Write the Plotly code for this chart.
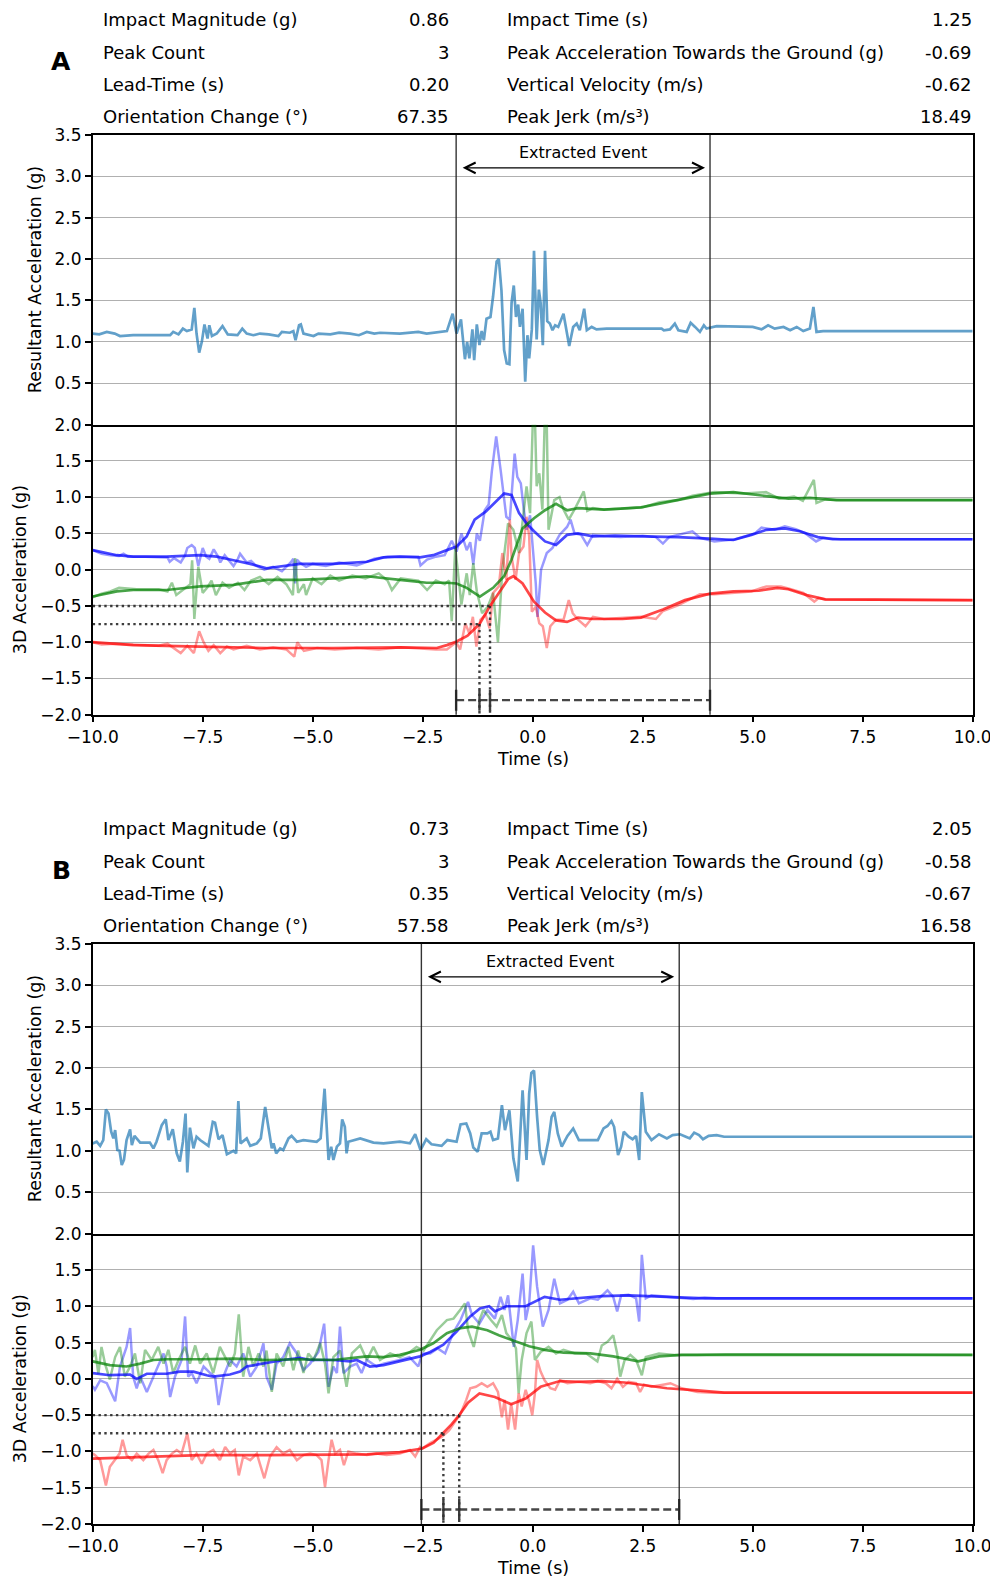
import plotly.graph_objects as go

# ---------------- DATA ----------------
metric_labels_left = ["Impact Magnitude (g)", "Peak Count", "Lead-Time (s)", "Orientation Change (°)"]
metric_labels_right = ["Impact Time (s)", "Peak Acceleration Towards the Ground (g)", "Vertical Velocity (m/s)", "Peak Jerk (m/s³)"]
A_values_left = ["0.86", "3", "0.20", "67.35"]
A_values_right = ["1.25", "-0.69", "-0.62", "18.49"]
B_values_left = ["0.73", "3", "0.35", "57.58"]
B_values_right = ["2.05", "-0.58", "-0.67", "16.58"]

event_A = (-1.74, 4.03)
event_B = (-2.53, 3.33)
thresholds = (-0.75, -0.5)
cross_A = (-1.21, -0.97)
cross_B = (-2.03, -1.67)

A_res = [(-10.0,1.10),(-9.85,1.09),(-9.68,1.12),(-9.5,1.10),(-9.38,1.07),(-9.08,1.08),(-8.24,1.08),(-8.17,1.12),(-8.05,1.09),(-7.95,1.16),(-7.86,1.13),(-7.75,1.15),(-7.69,1.41),(-7.64,1.10),(-7.58,0.87),(-7.52,1.00),(-7.46,1.21),(-7.39,1.04),(-7.35,1.20),(-7.29,1.07),(-7.18,1.10),(-7.05,1.19),(-6.93,1.09),(-6.71,1.08),(-6.60,1.16),(-6.50,1.10),(-6.35,1.08),(-6.20,1.10),(-6.0,1.09),(-5.78,1.07),(-5.70,1.12),(-5.52,1.11),(-5.44,1.13),(-5.39,1.02),(-5.31,1.20),(-5.27,1.21),(-5.21,1.10),(-5.10,1.09),(-4.98,1.07),(-4.87,1.10),(-4.6,1.09),(-4.4,1.11),(-4.15,1.10),(-3.95,1.08),(-3.77,1.12),(-3.6,1.10),(-3.47,1.11),(-3.02,1.10),(-2.6,1.12),(-2.41,1.10),(-2.11,1.12),(-1.95,1.13),(-1.82,1.34),(-1.73,1.10),(-1.63,1.27),(-1.54,0.79),(-1.49,1.00),(-1.44,0.80),(-1.37,1.15),(-1.33,0.78),(-1.27,1.21),(-1.21,0.96),(-1.16,1.13),(-1.11,1.02),(-1.05,1.28),(-0.96,1.30),(-0.90,1.55),(-0.82,1.97),(-0.77,2.00),(-0.71,1.62),(-0.65,0.90),(-0.59,0.74),(-0.53,0.73),(-0.48,1.47),(-0.43,1.68),(-0.38,1.30),(-0.33,1.45),(-0.29,1.18),(-0.23,1.40),(-0.17,0.52),(-0.12,1.08),(-0.08,0.80),(-0.02,1.15),(0.03,2.10),(0.09,1.03),(0.14,1.63),(0.18,1.47),(0.23,0.96),(0.28,2.10),(0.33,1.25),(0.39,1.22),(0.45,1.14),(0.51,1.20),(0.58,1.18),(0.70,1.34),(0.77,1.15),(0.83,0.95),(0.92,1.18),(1.00,1.22),(1.07,1.14),(1.17,1.40),(1.23,1.14),(1.34,1.18),(1.45,1.15),(1.68,1.16),(2.14,1.16),(2.93,1.16),(2.98,1.14),(3.12,1.15),(3.23,1.22),(3.31,1.14),(3.50,1.12),(3.59,1.23),(3.69,1.18),(3.80,1.12),(3.89,1.20),(3.95,1.16),(4.18,1.19),(4.71,1.18),(5.0,1.18),(5.2,1.15),(5.35,1.20),(5.5,1.16),(5.7,1.18),(5.85,1.14),(6.0,1.18),(6.15,1.13),(6.3,1.16),(6.38,1.42),(6.45,1.12),(6.6,1.13),(10.0,1.13)]

A_blue_raw = [(-10.0,0.27),(-9.8,0.22),(-9.6,0.2),(-9.4,0.19),(-9.3,0.22),(-9.2,0.18),(-8.8,0.18),(-8.5,0.18),(-8.3,0.17),(-8.25,0.11),(-8.15,0.16),(-8.0,0.1),(-7.9,0.2),(-7.85,0.3),(-7.75,0.34),(-7.68,0.3),(-7.6,0.05),(-7.5,0.3),(-7.42,0.18),(-7.35,0.15),(-7.25,0.28),(-7.15,0.18),(-7.1,0.1),(-7.0,0.2),(-6.9,0.12),(-6.8,0.05),(-6.7,0.15),(-6.65,0.22),(-6.5,0.1),(-6.4,0.12),(-6.3,0.06),(-6.1,0.0),(-5.9,0.04),(-5.7,-0.02),(-5.5,0.1),(-5.44,0.15),(-5.4,-0.19),(-5.36,0.14),(-5.3,0.1),(-5.15,0.04),(-5.0,0.08),(-4.7,0.05),(-4.4,0.1),(-4.0,0.06),(-3.8,0.1),(-3.6,0.15),(-3.3,0.18),(-2.8,0.18),(-2.6,0.18),(-2.55,0.06),(-2.4,0.14),(-2.2,0.18),(-2.0,0.2),(-1.84,0.4),(-1.73,0.25),(-1.62,0.5),(-1.5,0.27),(-1.42,0.38),(-1.35,0.07),(-1.27,0.5),(-1.2,0.4),(-1.09,0.82),(-1.0,0.9),(-0.93,1.35),(-0.83,1.84),(-0.73,1.38),(-0.6,0.73),(-0.52,0.69),(-0.41,1.6),(-0.35,1.28),(-0.27,1.19),(-0.21,0.87),(-0.14,0.55),(-0.06,0.75),(0.07,-0.19),(0.11,-0.65),(0.19,0.0),(0.32,0.23),(0.45,0.3),(0.61,0.48),(0.78,0.59),(0.86,0.69),(0.95,0.5),(1.1,0.48),(1.24,0.34),(1.37,0.48),(1.62,0.46),(2.0,0.45),(2.5,0.47),(2.8,0.45),(2.96,0.36),(3.1,0.45),(3.3,0.48),(3.63,0.53),(3.8,0.44),(4.13,0.39),(4.6,0.42),(5.05,0.5),(5.2,0.58),(5.5,0.55),(5.73,0.6),(5.98,0.56),(6.2,0.5),(6.44,0.39),(6.6,0.44),(7.0,0.42),(10.0,0.42)]
A_blue_smooth = [(-10.0,0.27),(-9.45,0.2),(-9.08,0.18),(-8.32,0.18),(-7.56,0.2),(-7.18,0.18),(-6.8,0.13),(-6.42,0.08),(-6.05,0.02),(-5.82,0.04),(-5.29,0.08),(-4.53,0.08),(-3.77,0.11),(-3.39,0.17),(-3.02,0.18),(-2.56,0.17),(-2.26,0.2),(-1.95,0.27),(-1.73,0.32),(-1.5,0.46),(-1.32,0.69),(-1.07,0.80),(-0.81,0.96),(-0.65,1.05),(-0.48,1.03),(-0.31,0.78),(-0.14,0.64),(0.03,0.53),(0.28,0.39),(0.53,0.34),(0.78,0.48),(1.03,0.50),(1.37,0.46),(1.87,0.47),(2.46,0.46),(3.3,0.45),(4.03,0.43),(4.56,0.41),(4.97,0.48),(5.31,0.55),(5.73,0.57),(6.07,0.53),(6.48,0.45),(6.82,0.42),(10.0,0.42)]
A_green_raw = [(-10.0,-0.38),(-9.8,-0.33),(-9.6,-0.3),(-9.4,-0.25),(-9.0,-0.27),(-8.5,-0.27),(-8.3,-0.3),(-8.2,-0.18),(-8.1,-0.35),(-7.95,-0.28),(-7.78,-0.2),(-7.74,0.13),(-7.69,-0.68),(-7.6,0.04),(-7.5,-0.32),(-7.4,-0.25),(-7.3,-0.15),(-7.2,-0.35),(-7.05,-0.18),(-6.9,-0.25),(-6.7,-0.18),(-6.55,-0.28),(-6.4,-0.15),(-6.2,-0.1),(-6.0,-0.2),(-5.8,-0.1),(-5.6,-0.2),(-5.45,-0.35),(-5.4,0.16),(-5.33,-0.32),(-5.2,-0.2),(-5.15,-0.35),(-5.0,-0.12),(-4.8,-0.2),(-4.6,-0.08),(-4.4,-0.15),(-4.1,-0.08),(-3.8,-0.12),(-3.5,-0.05),(-3.3,-0.15),(-3.2,-0.28),(-3.0,-0.12),(-2.6,-0.15),(-2.4,-0.28),(-2.2,-0.15),(-2.0,-0.2),(-1.9,-0.15),(-1.84,-0.71),(-1.76,0.3),(-1.62,-0.48),(-1.5,-0.05),(-1.43,-0.35),(-1.35,0.09),(-1.27,-0.3),(-1.15,-0.6),(-1.02,-0.51),(-0.9,-0.32),(-0.79,-1.0),(-0.69,0.0),(-0.56,0.64),(-0.44,0.55),(-0.31,0.23),(-0.23,0.69),(-0.14,1.15),(-0.06,0.78),(0.03,2.6),(0.09,1.15),(0.15,1.33),(0.22,0.83),(0.3,2.7),(0.36,0.55),(0.49,0.96),(0.61,1.0),(0.7,0.83),(0.82,0.69),(0.95,0.83),(1.16,1.08),(1.24,0.81),(1.37,0.85),(1.62,0.83),(2.0,0.84),(2.5,0.86),(2.88,0.93),(3.3,0.96),(3.63,1.02),(4.13,1.07),(4.8,1.05),(5.3,1.07),(5.6,0.98),(5.94,1.01),(6.14,0.95),(6.39,1.24),(6.45,0.92),(6.65,0.97),(7.0,0.96),(10.0,0.96)]
A_green_smooth = [(-10.0,-0.37),(-9.45,-0.3),(-9.08,-0.28),(-8.32,-0.28),(-7.56,-0.23),(-6.8,-0.21),(-6.05,-0.14),(-5.29,-0.14),(-4.53,-0.12),(-3.77,-0.09),(-3.02,-0.14),(-2.41,-0.18),(-1.95,-0.18),(-1.73,-0.19),(-1.5,-0.25),(-1.2,-0.37),(-0.9,-0.25),(-0.65,-0.09),(-0.48,0.14),(-0.23,0.57),(0.03,0.71),(0.28,0.82),(0.53,0.91),(0.78,0.82),(1.03,0.85),(1.62,0.83),(2.46,0.86),(3.3,0.96),(4.03,1.05),(4.56,1.07),(5.14,1.03),(5.81,0.98),(6.3,0.99),(6.9,0.96),(10.0,0.96)]
A_red_raw = [(-10.0,-1.0),(-9.8,-1.03),(-9.5,-1.02),(-9.0,-1.04),(-8.5,-1.05),(-8.3,-1.02),(-8.15,-1.08),(-8.0,-1.15),(-7.85,-1.05),(-7.7,-1.15),(-7.58,-0.85),(-7.48,-1.0),(-7.37,-1.12),(-7.25,-1.04),(-7.1,-1.15),(-6.95,-1.06),(-6.8,-1.1),(-6.5,-1.05),(-6.2,-1.1),(-5.9,-1.07),(-5.6,-1.1),(-5.42,-1.2),(-5.35,-1.0),(-5.2,-1.12),(-4.9,-1.08),(-4.5,-1.1),(-4.0,-1.08),(-3.5,-1.1),(-3.0,-1.07),(-2.5,-1.09),(-2.2,-1.1),(-1.95,-1.1),(-1.84,-1.05),(-1.74,-1.0),(-1.65,-1.1),(-1.53,-0.74),(-1.44,-0.88),(-1.36,-0.65),(-1.28,-1.06),(-1.19,-0.69),(-1.07,-0.62),(-0.98,-0.81),(-0.9,-0.32),(-0.77,-0.23),(-0.69,0.23),(-0.6,-0.14),(-0.52,0.69),(-0.48,0.18),(-0.39,-0.14),(-0.31,0.23),(-0.21,0.32),(-0.14,0.73),(-0.08,0.46),(-0.02,-0.58),(0.07,-0.51),(0.15,-0.74),(0.23,-0.78),(0.32,-1.08),(0.40,-0.78),(0.53,-0.69),(0.70,-0.69),(0.82,-0.42),(0.91,-0.6),(1.03,-0.69),(1.2,-0.78),(1.37,-0.65),(1.62,-0.68),(2.04,-0.67),(2.46,-0.65),(2.8,-0.68),(2.96,-0.57),(3.3,-0.49),(3.8,-0.34),(4.13,-0.34),(4.97,-0.3),(5.31,-0.23),(5.64,-0.23),(5.81,-0.26),(6.15,-0.32),(6.4,-0.44),(6.5,-0.39),(6.65,-0.41),(10.0,-0.42)]
A_red_smooth = [(-10.0,-1.0),(-9.08,-1.04),(-7.56,-1.06),(-6.05,-1.08),(-4.53,-1.08),(-3.02,-1.07),(-2.18,-1.08),(-1.95,-1.04),(-1.73,-0.99),(-1.48,-0.91),(-1.21,-0.75),(-0.97,-0.5),(-0.77,-0.32),(-0.56,-0.13),(-0.44,-0.09),(-0.23,-0.19),(0.03,-0.44),(0.28,-0.59),(0.53,-0.70),(0.78,-0.72),(1.03,-0.66),(1.37,-0.68),(2.04,-0.68),(2.46,-0.66),(2.96,-0.55),(3.46,-0.42),(4.03,-0.33),(4.56,-0.3),(5.14,-0.29),(5.56,-0.25),(5.81,-0.27),(6.23,-0.35),(6.65,-0.41),(10.0,-0.42)]

B_res = [(-10.0,1.09),(-9.91,1.11),(-9.83,1.06),(-9.76,1.13),(-9.7,1.50),(-9.64,1.45),(-9.58,1.23),(-9.53,1.15),(-9.49,1.25),(-9.44,1.01),(-9.39,1.00),(-9.34,0.83),(-9.29,0.89),(-9.23,1.13),(-9.15,1.26),(-9.11,1.07),(-9.05,1.18),(-8.92,1.10),(-8.7,1.10),(-8.62,1.03),(-8.55,1.11),(-8.43,1.31),(-8.34,1.38),(-8.28,1.13),(-8.18,1.26),(-8.09,0.97),(-8.02,0.87),(-7.95,1.11),(-7.89,1.45),(-7.85,0.74),(-7.79,1.28),(-7.71,1.03),(-7.64,1.17),(-7.56,1.13),(-7.37,1.06),(-7.27,1.35),(-7.22,1.34),(-7.14,1.14),(-7.05,1.19),(-6.95,0.96),(-6.8,1.00),(-6.74,0.97),(-6.69,1.60),(-6.64,1.09),(-6.5,1.15),(-6.42,1.06),(-6.27,1.09),(-6.18,1.15),(-6.08,1.53),(-5.97,1.19),(-5.93,1.03),(-5.89,1.09),(-5.83,0.97),(-5.74,1.03),(-5.67,1.01),(-5.55,1.15),(-5.48,1.18),(-5.36,1.11),(-5.21,1.13),(-4.91,1.11),(-4.82,1.15),(-4.73,1.75),(-4.68,1.21),(-4.64,0.89),(-4.58,1.05),(-4.53,0.89),(-4.45,1.05),(-4.38,1.09),(-4.33,1.38),(-4.27,1.29),(-4.23,0.97),(-4.19,1.11),(-3.92,1.15),(-3.62,1.10),(-3.39,1.09),(-3.02,1.11),(-2.79,1.09),(-2.67,1.20),(-2.55,1.01),(-2.42,1.14),(-2.3,1.08),(-2.07,1.06),(-1.94,1.13),(-1.73,1.11),(-1.64,1.32),(-1.51,1.33),(-1.42,1.21),(-1.35,1.04),(-1.25,0.99),(-1.16,1.21),(-1.03,1.21),(-0.96,1.23),(-0.9,1.13),(-0.79,1.15),(-0.7,1.55),(-0.63,1.25),(-0.53,1.49),(-0.44,0.91),(-0.34,0.63),(-0.23,1.73),(-0.14,0.89),(-0.08,1.69),(-0.03,1.94),(0.03,1.97),(0.1,1.41),(0.16,1.01),(0.24,0.83),(0.36,1.13),(0.43,1.41),(0.49,1.47),(0.57,1.21),(0.66,1.05),(0.79,1.18),(0.92,1.27),(1.05,1.13),(1.48,1.13),(1.61,1.27),(1.70,1.30),(1.79,1.36),(1.85,1.29),(1.94,0.95),(2.01,1.05),(2.07,1.23),(2.18,1.17),(2.27,1.14),(2.35,1.18),(2.42,0.89),(2.48,1.71),(2.57,1.23),(2.7,1.13),(2.87,1.20),(3.05,1.15),(3.18,1.19),(3.35,1.20),(3.48,1.17),(3.57,1.15),(3.67,1.22),(3.78,1.19),(3.87,1.14),(4.0,1.18),(4.18,1.19),(4.35,1.17),(10.0,1.17)]

B_blue_raw = [(-10.0,-0.1),(-9.95,-0.15),(-9.83,-0.02),(-9.68,-0.06),(-9.49,-0.31),(-9.38,0.17),(-9.23,0.44),(-9.15,0.70),(-9.08,0.03),(-9.0,-0.13),(-8.92,0.03),(-8.77,-0.18),(-8.62,0.03),(-8.39,0.35),(-8.32,0.17),(-8.24,-0.25),(-8.13,0.03),(-7.98,0.26),(-7.9,0.86),(-7.83,0.03),(-7.75,0.08),(-7.64,-0.06),(-7.48,0.17),(-7.33,0.08),(-7.22,0.03),(-7.14,-0.36),(-7.03,0.03),(-6.88,0.26),(-6.73,0.17),(-6.58,0.35),(-6.42,0.03),(-6.27,0.17),(-6.12,0.49),(-6.05,0.03),(-5.93,-0.15),(-5.82,0.21),(-5.67,0.3),(-5.52,0.49),(-5.36,0.35),(-5.21,0.12),(-5.06,0.21),(-4.87,0.37),(-4.74,0.76),(-4.64,-0.11),(-4.53,0.17),(-4.45,0.08),(-4.38,0.72),(-4.3,0.08),(-4.15,0.17),(-4.0,0.21),(-3.89,0.08),(-3.77,0.26),(-3.55,0.17),(-3.39,0.21),(-3.02,0.26),(-2.8,0.3),(-2.6,0.17),(-2.51,0.35),(-2.33,0.35),(-2.16,0.42),(-1.99,0.35),(-1.81,0.63),(-1.64,0.81),(-1.47,1.06),(-1.38,0.88),(-1.21,0.76),(-1.03,0.95),(-0.86,0.83),(-0.73,1.13),(-0.64,0.95),(-0.56,1.15),(-0.43,0.44),(-0.34,0.81),(-0.23,1.45),(-0.16,0.81),(-0.08,1.04),(0.01,1.84),(0.1,1.27),(0.23,0.72),(0.36,0.95),(0.49,1.38),(0.62,1.04),(0.79,1.09),(0.92,1.2),(1.05,1.04),(1.31,1.11),(1.48,1.09),(1.7,1.22),(1.83,1.13),(1.92,0.93),(2.01,1.15),(2.18,1.16),(2.35,1.11),(2.42,0.79),(2.48,1.71),(2.57,1.11),(2.7,1.15),(3.05,1.13),(3.39,1.11),(3.65,1.1),(3.91,1.12),(4.18,1.11),(10.0,1.11)]
B_blue_smooth = [(-10.0,0.08),(-9.61,0.05),(-9.15,0.06),(-9.0,0.0),(-8.77,0.07),(-8.32,0.07),(-8.02,0.1),(-7.71,0.1),(-7.41,0.05),(-7.26,0.03),(-6.88,0.06),(-6.65,0.1),(-6.5,0.17),(-6.05,0.22),(-5.67,0.26),(-5.29,0.29),(-5.06,0.26),(-4.53,0.26),(-4.15,0.24),(-4.0,0.26),(-3.7,0.17),(-3.39,0.19),(-3.02,0.24),(-2.56,0.31),(-2.33,0.37),(-2.03,0.47),(-1.73,0.65),(-1.42,0.86),(-1.2,0.97),(-0.99,1.0),(-0.86,0.93),(-0.6,1.0),(-0.16,1.0),(0.27,1.13),(0.62,1.09),(1.05,1.11),(1.57,1.14),(2.18,1.15),(2.61,1.14),(3.05,1.12),(3.92,1.11),(10.0,1.11)]
B_green_raw = [(-10.0,0.3),(-9.95,0.4),(-9.87,0.07),(-9.8,0.44),(-9.72,0.21),(-9.61,-0.01),(-9.49,0.30),(-9.38,0.44),(-9.27,0.03),(-9.15,0.17),(-9.04,0.35),(-8.92,-0.06),(-8.81,0.40),(-8.66,0.26),(-8.51,0.44),(-8.39,0.21),(-8.28,0.40),(-8.17,0.08),(-8.05,0.26),(-7.9,0.44),(-7.79,0.21),(-7.67,0.46),(-7.56,0.21),(-7.41,0.35),(-7.26,0.08),(-7.11,0.44),(-6.99,0.3),(-6.88,0.17),(-6.77,0.35),(-6.68,0.89),(-6.58,0.03),(-6.46,0.44),(-6.35,0.17),(-6.23,0.35),(-6.12,0.17),(-6.05,0.39),(-5.93,-0.18),(-5.82,0.35),(-5.67,0.17),(-5.55,0.44),(-5.44,0.12),(-5.33,0.39),(-5.21,0.08),(-5.1,0.35),(-4.98,0.26),(-4.83,0.49),(-4.72,0.21),(-4.64,-0.2),(-4.53,0.3),(-4.38,0.39),(-4.23,-0.11),(-4.11,0.35),(-3.92,0.46),(-3.77,0.26),(-3.62,0.44),(-3.47,0.26),(-3.24,0.35),(-3.02,0.3),(-2.79,0.37),(-2.64,0.44),(-2.48,0.39),(-2.33,0.53),(-2.18,0.67),(-1.95,0.81),(-1.8,0.83),(-1.65,0.95),(-1.54,1.04),(-1.47,0.67),(-1.34,0.44),(-1.21,0.81),(-1.12,0.95),(-0.95,0.81),(-0.82,0.72),(-0.7,0.88),(-0.6,0.63),(-0.47,0.53),(-0.38,0.42),(-0.32,-0.2),(-0.25,0.26),(-0.14,0.63),(-0.03,0.79),(0.05,0.26),(0.18,0.37),(0.36,0.44),(0.53,0.35),(0.7,0.4),(0.96,0.35),(1.22,0.35),(1.47,0.24),(1.57,0.46),(1.7,0.51),(1.83,0.6),(1.92,0.35),(1.99,0.03),(2.09,0.26),(2.22,0.33),(2.35,0.26),(2.48,0.05),(2.57,0.3),(2.87,0.35),(3.22,0.33),(3.74,0.33),(4.39,0.34),(10.0,0.33)]
B_green_smooth = [(-10.0,0.24),(-9.61,0.19),(-9.23,0.17),(-8.92,0.21),(-8.62,0.26),(-8.32,0.27),(-7.56,0.27),(-6.8,0.28),(-6.05,0.26),(-5.29,0.27),(-4.53,0.26),(-4.15,0.29),(-3.77,0.31),(-3.39,0.3),(-3.02,0.33),(-2.56,0.4),(-2.26,0.49),(-1.95,0.63),(-1.64,0.70),(-1.38,0.72),(-1.03,0.67),(-0.77,0.6),(-0.43,0.53),(-0.08,0.45),(0.27,0.4),(0.7,0.36),(1.31,0.35),(1.83,0.31),(2.4,0.24),(2.87,0.31),(3.39,0.33),(4.35,0.33),(10.0,0.33)]
B_red_raw = [(-10.0,-1.03),(-9.95,-1.05),(-9.83,-1.12),(-9.76,-1.3),(-9.7,-1.47),(-9.61,-1.21),(-9.49,-1.12),(-9.39,-1.03),(-9.32,-0.84),(-9.23,-1.05),(-9.11,-1.12),(-9.0,-1.03),(-8.85,-1.12),(-8.73,-1.03),(-8.62,-0.98),(-8.51,-1.12),(-8.41,-1.3),(-8.32,-1.12),(-8.2,-1.03),(-8.09,-0.98),(-7.98,-1.03),(-7.85,-0.75),(-7.75,-1.12),(-7.64,-1.03),(-7.52,-1.17),(-7.41,-1.03),(-7.26,-0.98),(-7.11,-1.12),(-6.99,-0.94),(-6.88,-1.03),(-6.77,-0.98),(-6.68,-1.33),(-6.58,-1.07),(-6.42,-1.12),(-6.27,-1.03),(-6.1,-1.37),(-5.97,-1.07),(-5.82,-0.94),(-5.67,-1.03),(-5.52,-0.98),(-5.36,-1.12),(-5.21,-1.05),(-5.06,-1.03),(-4.91,-1.05),(-4.8,-1.12),(-4.72,-1.49),(-4.64,-1.12),(-4.57,-0.84),(-4.49,-1.03),(-4.38,-0.98),(-4.29,-1.19),(-4.19,-1.0),(-4.0,-1.03),(-3.77,-1.05),(-3.55,-1.03),(-3.32,-1.05),(-3.02,-1.03),(-2.79,-0.98),(-2.67,-1.07),(-2.56,-0.94),(-2.51,-0.96),(-2.34,-0.89),(-2.07,-0.8),(-1.9,-0.71),(-1.64,-0.48),(-1.51,-0.29),(-1.42,-0.13),(-1.29,-0.11),(-1.16,-0.06),(-1.03,-0.11),(-0.9,-0.06),(-0.79,-0.18),(-0.7,-0.53),(-0.64,-0.29),(-0.56,-0.7),(-0.49,-0.34),(-0.4,-0.7),(-0.32,-0.2),(-0.25,-0.38),(-0.16,-0.15),(-0.08,-0.31),(-0.01,-0.5),(0.05,-0.2),(0.1,0.26),(0.18,0.1),(0.27,-0.02),(0.4,-0.13),(0.51,-0.15),(0.62,-0.02),(0.79,-0.06),(1.05,-0.04),(1.31,-0.06),(1.48,-0.03),(1.66,-0.06),(1.79,-0.13),(1.92,0.0),(2.05,-0.11),(2.18,-0.04),(2.35,-0.06),(2.44,-0.18),(2.53,-0.08),(2.7,-0.11),(2.96,-0.08),(3.13,-0.06),(3.39,-0.13),(3.74,-0.18),(4.09,-0.19),(10.0,-0.19)]
B_red_smooth = [(-10.0,-1.1),(-9.08,-1.08),(-8.32,-1.07),(-7.56,-1.05),(-6.05,-1.05),(-4.53,-1.05),(-3.77,-1.04),(-3.02,-1.01),(-2.51,-0.96),(-2.25,-0.88),(-2.03,-0.75),(-1.85,-0.63),(-1.67,-0.5),(-1.47,-0.33),(-1.21,-0.2),(-0.86,-0.25),(-0.49,-0.35),(-0.16,-0.27),(0.18,-0.11),(0.62,-0.03),(1.05,-0.04),(1.57,-0.03),(2.09,-0.05),(2.61,-0.09),(3.05,-0.13),(3.74,-0.16),(4.35,-0.19),(10.0,-0.19)]

x_ticks = [-10.0, -7.5, -5.0, -2.5, 0.0, 2.5, 5.0, 7.5, 10.0]
res_ticks = [0.5, 1.0, 1.5, 2.0, 2.5, 3.0, 3.5]
acc_ticks = [-2.0, -1.5, -1.0, -0.5, 0.0, 0.5, 1.0, 1.5, 2.0]

# ---------------- LAYOUT ----------------
W, H = 998, 1578
OFF = 8.0  # page body margin
FONT = "DejaVu Sans"
XL, XR = 92.7, 972.7
panels = [
    dict(name="A", top=134.7, mid=424.7, bot=714.7, rows=[19.8, 52.1, 84.4, 116.7], letter_y=61,
         vl=A_values_left, vr=A_values_right, event=event_A, cross=cross_A,
         res=A_res, raw=[A_blue_raw, A_green_raw, A_red_raw], smooth=[A_blue_smooth, A_green_smooth, A_red_smooth]),
    dict(name="B", top=943.7, mid=1233.7, bot=1524.0, rows=[828.7, 861.0, 893.3, 925.6], letter_y=870,
         vl=B_values_left, vr=B_values_right, event=event_B, cross=cross_B,
         res=B_res, raw=[B_blue_raw, B_green_raw, B_red_raw], smooth=[B_blue_smooth, B_green_smooth, B_red_smooth]),
]

def py(p):
    return 1 - (p - OFF) / H

def pxx(p):
    return (p - OFF) / W

raw_colors = ["rgba(0,0,255,0.4)", "rgba(0,128,0,0.4)", "rgba(255,0,0,0.4)"]
smooth_colors = ["rgba(0,0,255,0.72)", "rgba(0,128,0,0.72)", "rgba(255,0,0,0.72)"]

fig = go.Figure()
annotations = []
shapes = []
layout_axes = {}

axis_common = dict(range=[-10, 10], showline=True, linecolor="black", linewidth=1.5, mirror=True,
                   zeroline=False, showgrid=False, automargin=False, fixedrange=True)
yaxis_common = dict(showline=True, linecolor="black", linewidth=1.5, mirror=True, zeroline=False,
                    showgrid=True, gridcolor="#b0b0b0", gridwidth=1.4, ticks="outside", ticklen=6,
                    tickwidth=1.5, tickcolor="black", tickformat=".1f", automargin=False, fixedrange=True,
                    tickfont=dict(family=FONT, size=17, color="black"))

def txt(x, y, text, size, xanchor="center", angle=0):
    return dict(x=x, y=y, xref="paper", yref="paper", text=text, showarrow=False, xanchor=xanchor,
                yanchor="middle", textangle=angle, font=dict(family=FONT, size=size, color="black"))

for i, p in enumerate(panels):
    ir = 2 * i + 1
    ia = 2 * i + 2
    xr = "x" if ir == 1 else f"x{ir}"
    yr = "y" if ir == 1 else f"y{ir}"
    xa = f"x{ia}"
    ya = f"y{ia}"
    layout_axes["xaxis" if ir == 1 else f"xaxis{ir}"] = dict(axis_common, domain=[pxx(XL), pxx(XR)], anchor=yr,
                                                              showticklabels=False, ticks="")
    layout_axes["yaxis" if ir == 1 else f"yaxis{ir}"] = dict(yaxis_common, domain=[py(p["mid"]), py(p["top"])],
                                                              anchor=xr, range=[0, 3.5], tickvals=res_ticks)
    layout_axes[f"xaxis{ia}"] = dict(axis_common, domain=[pxx(XL), pxx(XR)], anchor=ya, tickvals=x_ticks,
                                     mirror=False,
                                     tickformat=".1f", ticks="outside", ticklen=6, tickwidth=1.5,
                                     tickcolor="black", tickfont=dict(family=FONT, size=17, color="black"))
    layout_axes[f"yaxis{ia}"] = dict(yaxis_common, domain=[py(p["bot"]), py(p["mid"])], anchor=xa,
                                     range=[-2, 2], tickvals=acc_ticks)

    fig.add_trace(go.Scatter(x=[a for a, b in p["res"]], y=[b for a, b in p["res"]], mode="lines",
                             line=dict(color="rgba(31,119,180,0.7)", width=2.7), xaxis=xr, yaxis=yr,
                             hoverinfo="skip", showlegend=False))
    for k in range(3):
        s = p["raw"][k]
        fig.add_trace(go.Scatter(x=[a for a, b in s], y=[b for a, b in s], mode="lines",
                                 line=dict(color=raw_colors[k], width=2.5), xaxis=xa, yaxis=ya,
                                 hoverinfo="skip", showlegend=False))
    for k in range(3):
        s = p["smooth"][k]
        fig.add_trace(go.Scatter(x=[a for a, b in s], y=[b for a, b in s], mode="lines",
                                 line=dict(color=smooth_colors[k], width=2.7), xaxis=xa, yaxis=ya,
                                 hoverinfo="skip", showlegend=False))

    es, ee = p["event"]
    c1, c2 = p["cross"]
    fig.add_trace(go.Scatter(x=[-10, c1, None, c1, c1, None, -10, c2, None, c2, c2],
                             y=[thresholds[0], thresholds[0], None, thresholds[0], -2, None,
                                thresholds[1], thresholds[1], None, thresholds[1], -2],
                             mode="lines", line=dict(color="rgba(40,40,40,0.9)", width=2.4, dash="2.4px,3.4px"),
                             xaxis=xa, yaxis=ya, hoverinfo="skip", showlegend=False))
    ybar = -1.8
    fig.add_trace(go.Scatter(x=[es, c1, None, c1, c2, None, c2, ee], y=[ybar, ybar, None, ybar, ybar, None, ybar, ybar],
                             mode="lines", line=dict(color="rgba(50,50,50,0.9)", width=2.3, dash="8px,4px"),
                             xaxis=xa, yaxis=ya, hoverinfo="skip", showlegend=False))
    fig.add_trace(go.Scatter(x=[es, c1, c2, ee], y=[ybar] * 4, mode="markers",
                             marker=dict(symbol="line-ns", size=15, line=dict(color="rgba(50,50,50,0.95)", width=2.4)),
                             xaxis=xa, yaxis=ya, hoverinfo="skip", showlegend=False))

    for (xx, yy) in [(xr, yr), (xa, ya)]:
        for t in (es, ee):
            shapes.append(dict(type="line", xref=xx, yref=f"{yy} domain", x0=t, x1=t, y0=0, y1=1,
                               line=dict(color="rgba(30,30,30,0.9)", width=1.4), layer="above"))

    annotations.append(dict(x=ee, y=3.1, ax=es, ay=3.1, xref=xr, yref=yr, axref=xr, ayref=yr, text="",
                            showarrow=True, arrowhead=5, startarrowhead=5, arrowside="end+start",
                            arrowsize=1.5, arrowwidth=1.4, arrowcolor="black", standoff=5, startstandoff=5))
    annotations.append(dict(x=(es + ee) / 2, y=3.28, xref=xr, yref=yr, text="Extracted Event", showarrow=False,
                            xanchor="center", yanchor="middle", font=dict(family=FONT, size=16, color="black")))

    annotations.append(txt(pxx(34.5), py((p["top"] + p["mid"]) / 2), "Resultant Acceleration (g)", 17.5, angle=-90))
    annotations.append(txt(pxx(19.5), py((p["mid"] + p["bot"]) / 2), "3D Acceleration (g)", 17.5, angle=-90))
    annotations.append(txt(pxx((XL + XR) / 2), py(p["bot"] + 44), "Time (s)", 17.5))
    annotations.append(txt(pxx(61), py(p["letter_y"]), "<b>" + p["name"] + "</b>", 25))
    for r in range(4):
        yy = py(p["rows"][r])
        annotations.append(txt(pxx(100.5), yy, metric_labels_left[r], 18, xanchor="left"))
        annotations.append(txt(pxx(450.5), yy, p["vl"][r], 18, xanchor="right"))
        annotations.append(txt(pxx(505), yy, metric_labels_right[r], 18, xanchor="left"))
        annotations.append(txt(pxx(973.5), yy, p["vr"][r], 18, xanchor="right"))

fig.update_layout(width=W, height=H, autosize=False, margin=dict(l=0, r=0, t=0, b=0, pad=0),
                  paper_bgcolor="white", plot_bgcolor="white", showlegend=False, template="none",
                  font=dict(family=FONT, size=17, color="black"),
                  annotations=annotations, shapes=shapes, **layout_axes)

fig.write_html("out.html")
